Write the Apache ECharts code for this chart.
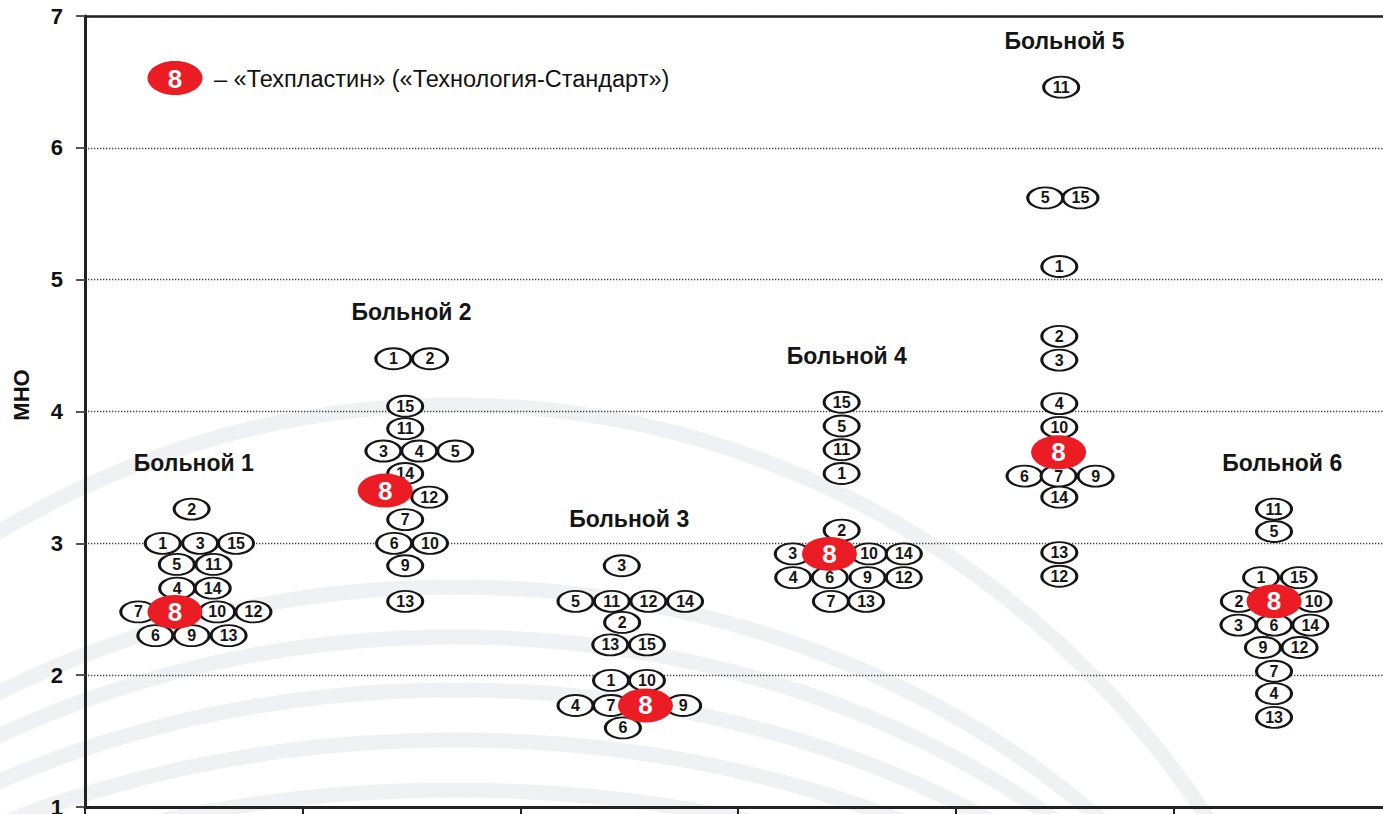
<!DOCTYPE html>
<html>
<head>
<meta charset="utf-8">
<style>
  html, body { margin: 0; padding: 0; background: #fff; }
  #chart { width: 1383px; height: 814px; }
</style>
<script src="https://cdn.jsdelivr.net/npm/echarts@6/dist/echarts.min.js"></script>
</head>
<body>
<div id="chart"></div>
<script>
// номера образцов (1..15) и пациенты
const samples = [1, 2, 3, 4, 5, 6, 7, 8, 9, 10, 11, 12, 13, 14, 15];
const patients = ['Больной 1', 'Больной 2', 'Больной 3', 'Больной 4', 'Больной 5', 'Больной 6'];
const redSample = 8;
const legendText = '– «Техпластин» («Технология-Стандарт»)';
const yTicks = [1, 2, 3, 4, 5, 6, 7];

// МНО по образцам 1..15 для каждого пациента
const mnoP1 = [3.00, 3.26, 3.00, 2.66, 2.84, 2.30, 2.48, 2.48, 2.30, 2.48, 2.84, 2.48, 2.30, 2.66, 3.00];
const mnoP2 = [4.40, 4.40, 3.70, 3.70, 3.70, 3.00, 3.18, 3.40, 2.83, 3.00, 3.87, 3.35, 2.56, 3.53, 4.04];
const mnoP3 = [1.96, 2.40, 2.83, 1.77, 2.56, 1.60, 1.77, 1.77, 1.77, 1.96, 2.56, 2.56, 2.23, 2.56, 2.23];
const mnoP4 = [3.53, 3.10, 2.92, 2.74, 3.89, 2.74, 2.56, 2.92, 2.74, 2.92, 3.71, 2.74, 2.56, 2.92, 4.07];
const mnoP5 = [5.10, 4.57, 4.39, 4.06, 5.62, 3.51, 3.51, 3.69, 3.51, 3.88, 6.46, 2.75, 2.93, 3.35, 5.62];
const mnoP6 = [2.74, 2.56, 2.38, 1.86, 3.09, 2.38, 2.03, 2.56, 2.21, 2.56, 3.26, 2.21, 1.68, 2.38, 2.74];

// горизонтальный сдвиг внутри группы (в ширинах овала), чтобы метки не накладывались
const slotP1 = [-0.84, -0.06, 0.17, -0.45, -0.46, -1.04, -1.50, -0.51, -0.06, 0.63, 0.53, 1.61, 0.94, 0.51, 1.14];
const slotP2 = [-0.49, 0.50, -0.76, 0.21, 1.18, -0.47, -0.17, -0.71, -0.17, 0.50, -0.17, 0.48, -0.17, -0.17, -0.17];
const slotP3 = [-0.49, -0.19, -0.20, -1.45, -1.45, -0.17, -0.49, 0.44, 1.46, 0.48, -0.47, 0.52, -0.51, 1.51, 0.48];
const slotP4 = [-0.14, -0.14, -1.46, -1.45, -0.14, -0.46, -0.43, -0.47, 0.56, 0.60, -0.14, 1.54, 0.52, 1.54, -0.14];
const slotP5 = [-0.14, -0.14, -0.14, -0.14, -0.52, -1.08, -0.16, -0.16, 0.84, -0.14, -0.09, -0.14, -0.14, -0.14, 0.43];
const slotP6 = [-0.57, -1.17, -1.18, -0.22, -0.22, -0.22, -0.22, -0.22, -0.52, 0.85, -0.22, 0.47, -0.22, 0.76, 0.45];

const mnoAll = [mnoP1, mnoP2, mnoP3, mnoP4, mnoP5, mnoP6];
const slotAll = [slotP1, slotP2, slotP3, slotP4, slotP5, slotP6];

const SLOT = 0.17; // ширина овала в долях категории
const ELLIPSE = 'path://M0,50A50,50,0,1,1,100,50A50,50,0,1,1,0,50Z';
const FONT = '"Liberation Sans", Arial, sans-serif';

let blackData = [];
let redData = [];
let titleData = [];
mnoAll.forEach((vals, p) => {
  samples.forEach((s, i) => {
    const pt = [p + 0.5 + slotAll[p][i] * SLOT, vals[i], s];
    if (s === redSample) redData.push(pt);
    else blackData.push(pt);
  });
  titleData.push([p + 0.5, Math.max.apply(null, vals), patients[p]]);
});

// фоновые дуги
const arcs = [
  { rx: 912, ry: 950 },
  { rx: 900, ry: 768 },
  { rx: 900, ry: 718 },
  { rx: 900, ry: 665 },
  { rx: 900, ry: 615 },
  { rx: 900, ry: 565 }
];

const chart = echarts.init(document.getElementById('chart'), null, { renderer: 'svg' });
chart.setOption({
  animation: false,
  backgroundColor: '#fff',
  grid: { left: 85, right: -8, top: 16, bottom: 7, outerBoundsMode: 'none' },
  graphic: [
    ...arcs.map(a => ({
      type: 'ellipse',
      z: -10,
      silent: true,
      shape: { cx: 455, cy: 1355, rx: a.rx, ry: a.ry },
      style: { fill: 'none', stroke: '#f0f1f3', lineWidth: 15 }
    })),
    {
      type: 'ellipse',
      z: 10,
      shape: { cx: 175, cy: 78, rx: 27.5, ry: 17 },
      style: { fill: '#ec1c24' }
    },
    {
      type: 'text',
      z: 11,
      x: 175,
      y: 79,
      style: { text: String(redSample), fill: '#fff', font: 'bold 26px ' + FONT, align: 'center', verticalAlign: 'middle' }
    },
    {
      type: 'text',
      z: 11,
      x: 214,
      y: 79,
      style: { text: legendText, fill: '#111', font: '23.5px ' + FONT, align: 'left', verticalAlign: 'middle' }
    },
    {
      type: 'text',
      z: 11,
      x: 21,
      y: 395,
      rotation: Math.PI / 2,
      style: { text: 'МНО', fill: '#111', font: 'bold 22px ' + FONT, align: 'center', verticalAlign: 'middle' }
    }
  ],
  xAxis: [
    {
      type: 'value', min: 0, max: 6, interval: 1,
      axisLine: { show: true, onZero: false, lineStyle: { color: '#222', width: 3 } },
      axisTick: { show: true, length: 10, lineStyle: { color: '#222', width: 2 } },
      axisLabel: { show: false },
      splitLine: { show: false }
    },
    {
      type: 'value', min: 0, max: 6, position: 'top',
      axisLine: { show: true, onZero: false, lineStyle: { color: '#222', width: 2.5 } },
      axisTick: { show: false },
      axisLabel: { show: false },
      splitLine: { show: false }
    }
  ],
  yAxis: {
    type: 'value', min: yTicks[0], max: yTicks[yTicks.length - 1], interval: 1,
    axisLine: { show: true, lineStyle: { color: '#222', width: 3 } },
    axisTick: { show: true, length: 9, lineStyle: { color: '#555', width: 2 } },
    axisLabel: { fontFamily: FONT, fontSize: 22, fontWeight: 'bold', color: '#111', margin: 22 },
    splitLine: { show: true, lineStyle: { color: '#444', width: 1.3, type: [1.3, 1.7] } }
  },
  series: [
    {
      // подписи пациентов над верхней меткой группы
      type: 'scatter',
      silent: true,
      z: 2,
      symbolSize: 2,
      itemStyle: { color: 'rgba(0,0,0,0)', opacity: 1 },
      label: {
        show: true, position: 'top', distance: 34,
        formatter: p => p.data[2],
        fontFamily: FONT, fontSize: 23, fontWeight: 'bold', color: '#151515'
      },
      data: titleData
    },
    {
      type: 'scatter',
      silent: true,
      z: 3,
      symbol: ELLIPSE,
      symbolSize: [35, 21],
      itemStyle: { color: '#fff', borderColor: '#151515', borderWidth: 2.4, opacity: 1 },
      label: {
        show: true, position: 'inside',
        formatter: p => p.data[2],
        fontFamily: FONT, fontSize: 16, fontWeight: 'bold', color: '#151515'
      },
      data: blackData
    },
    {
      type: 'scatter',
      silent: true,
      z: 4,
      symbol: ELLIPSE,
      symbolSize: [55, 34],
      itemStyle: { color: '#ec1c24', opacity: 1 },
      label: {
        show: true, position: 'inside',
        formatter: p => p.data[2],
        fontFamily: FONT, fontSize: 26, fontWeight: 'bold', color: '#fff'
      },
      data: redData
    }
  ]
});
</script>
</body>
</html>
